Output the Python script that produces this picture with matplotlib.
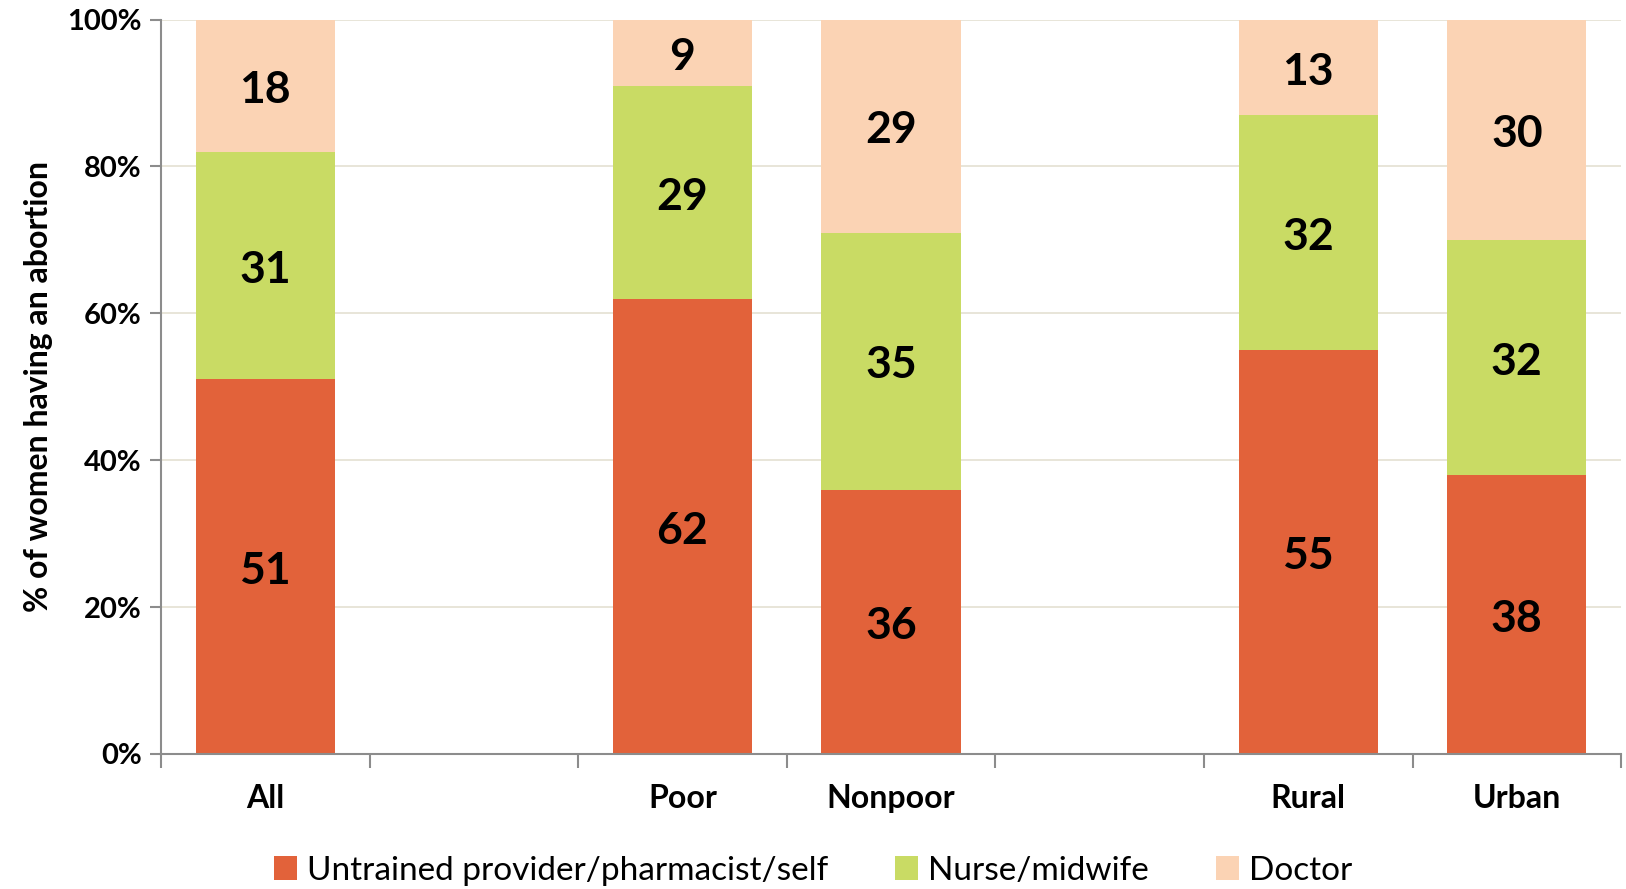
import matplotlib.pyplot as plt
import numpy as np

plt.rcParams['font.family'] = ['Lato', 'DejaVu Sans']

categories = ['All', '', 'Poor', 'Nonpoor', '', 'Rural', 'Urban']
untrained = [51, 0, 62, 36, 0, 55, 38]
nurse = [31, 0, 29, 35, 0, 32, 32]
doctor = [18, 0, 9, 29, 0, 13, 30]
series_names = ['Untrained provider/pharmacist/self', 'Nurse/midwife', 'Doctor']
colors = ['#E2623A', '#C9DB64', '#FBD3B4']

fig = plt.figure(figsize=(16.26, 8.89), dpi=100)
ax = fig.add_axes([0.099, 0.152, 0.898, 0.826])

x = np.arange(len(categories))
bottom = np.zeros(len(categories))
for vals, name, col in zip([untrained, nurse, doctor], series_names, colors):
    vals = np.array(vals, dtype=float)
    ax.bar(x, vals, 0.667, bottom=bottom, color=col, label=name, zorder=2)
    for xi, b, v in zip(x, bottom, vals):
        if v > 0:
            ax.text(xi, b + v / 2 - 0.6, f'{int(v)}', ha='center', va='center',
                    fontsize=32, fontweight='bold', color='black', zorder=3)
    bottom += vals

ax.set_xlim(-0.5, len(categories) - 0.5)
ax.set_ylim(0, 100)
ax.set_yticks(np.arange(0, 101, 20))
ax.set_yticklabels([f'{v}%' for v in range(0, 101, 20)], fontsize=21, fontweight='bold')
ax.yaxis.grid(True, color='#E6E3D6', linewidth=1.3, zorder=0)
ax.set_axisbelow(True)

ax.set_xticks(x)
ax.set_xticklabels(categories, fontsize=23, fontweight='bold')
ax.tick_params(axis='x', which='major', length=0, pad=22)
ax.set_xticks(np.arange(-0.5, len(categories), 1), minor=True)
ax.tick_params(axis='x', which='minor', length=10, width=1.5, color='#8C8C8C')
ax.tick_params(axis='y', length=8, width=1.5, color='#8C8C8C', pad=6)

for side in ['top', 'right']:
    ax.spines[side].set_visible(False)
for side in ['left', 'bottom']:
    ax.spines[side].set_color('#8C8C8C')
    ax.spines[side].set_linewidth(1.5)

ax.set_ylabel('% of women having an abortion', fontsize=23, fontweight='bold', labelpad=10)

fig.legend(loc='lower center', bbox_to_anchor=(0.5, -0.03), ncol=3, frameon=False,
           fontsize=24, handlelength=0.7, handleheight=0.7, handletextpad=0.3,
           columnspacing=2.0)

fig.savefig('out.png', dpi=100)
